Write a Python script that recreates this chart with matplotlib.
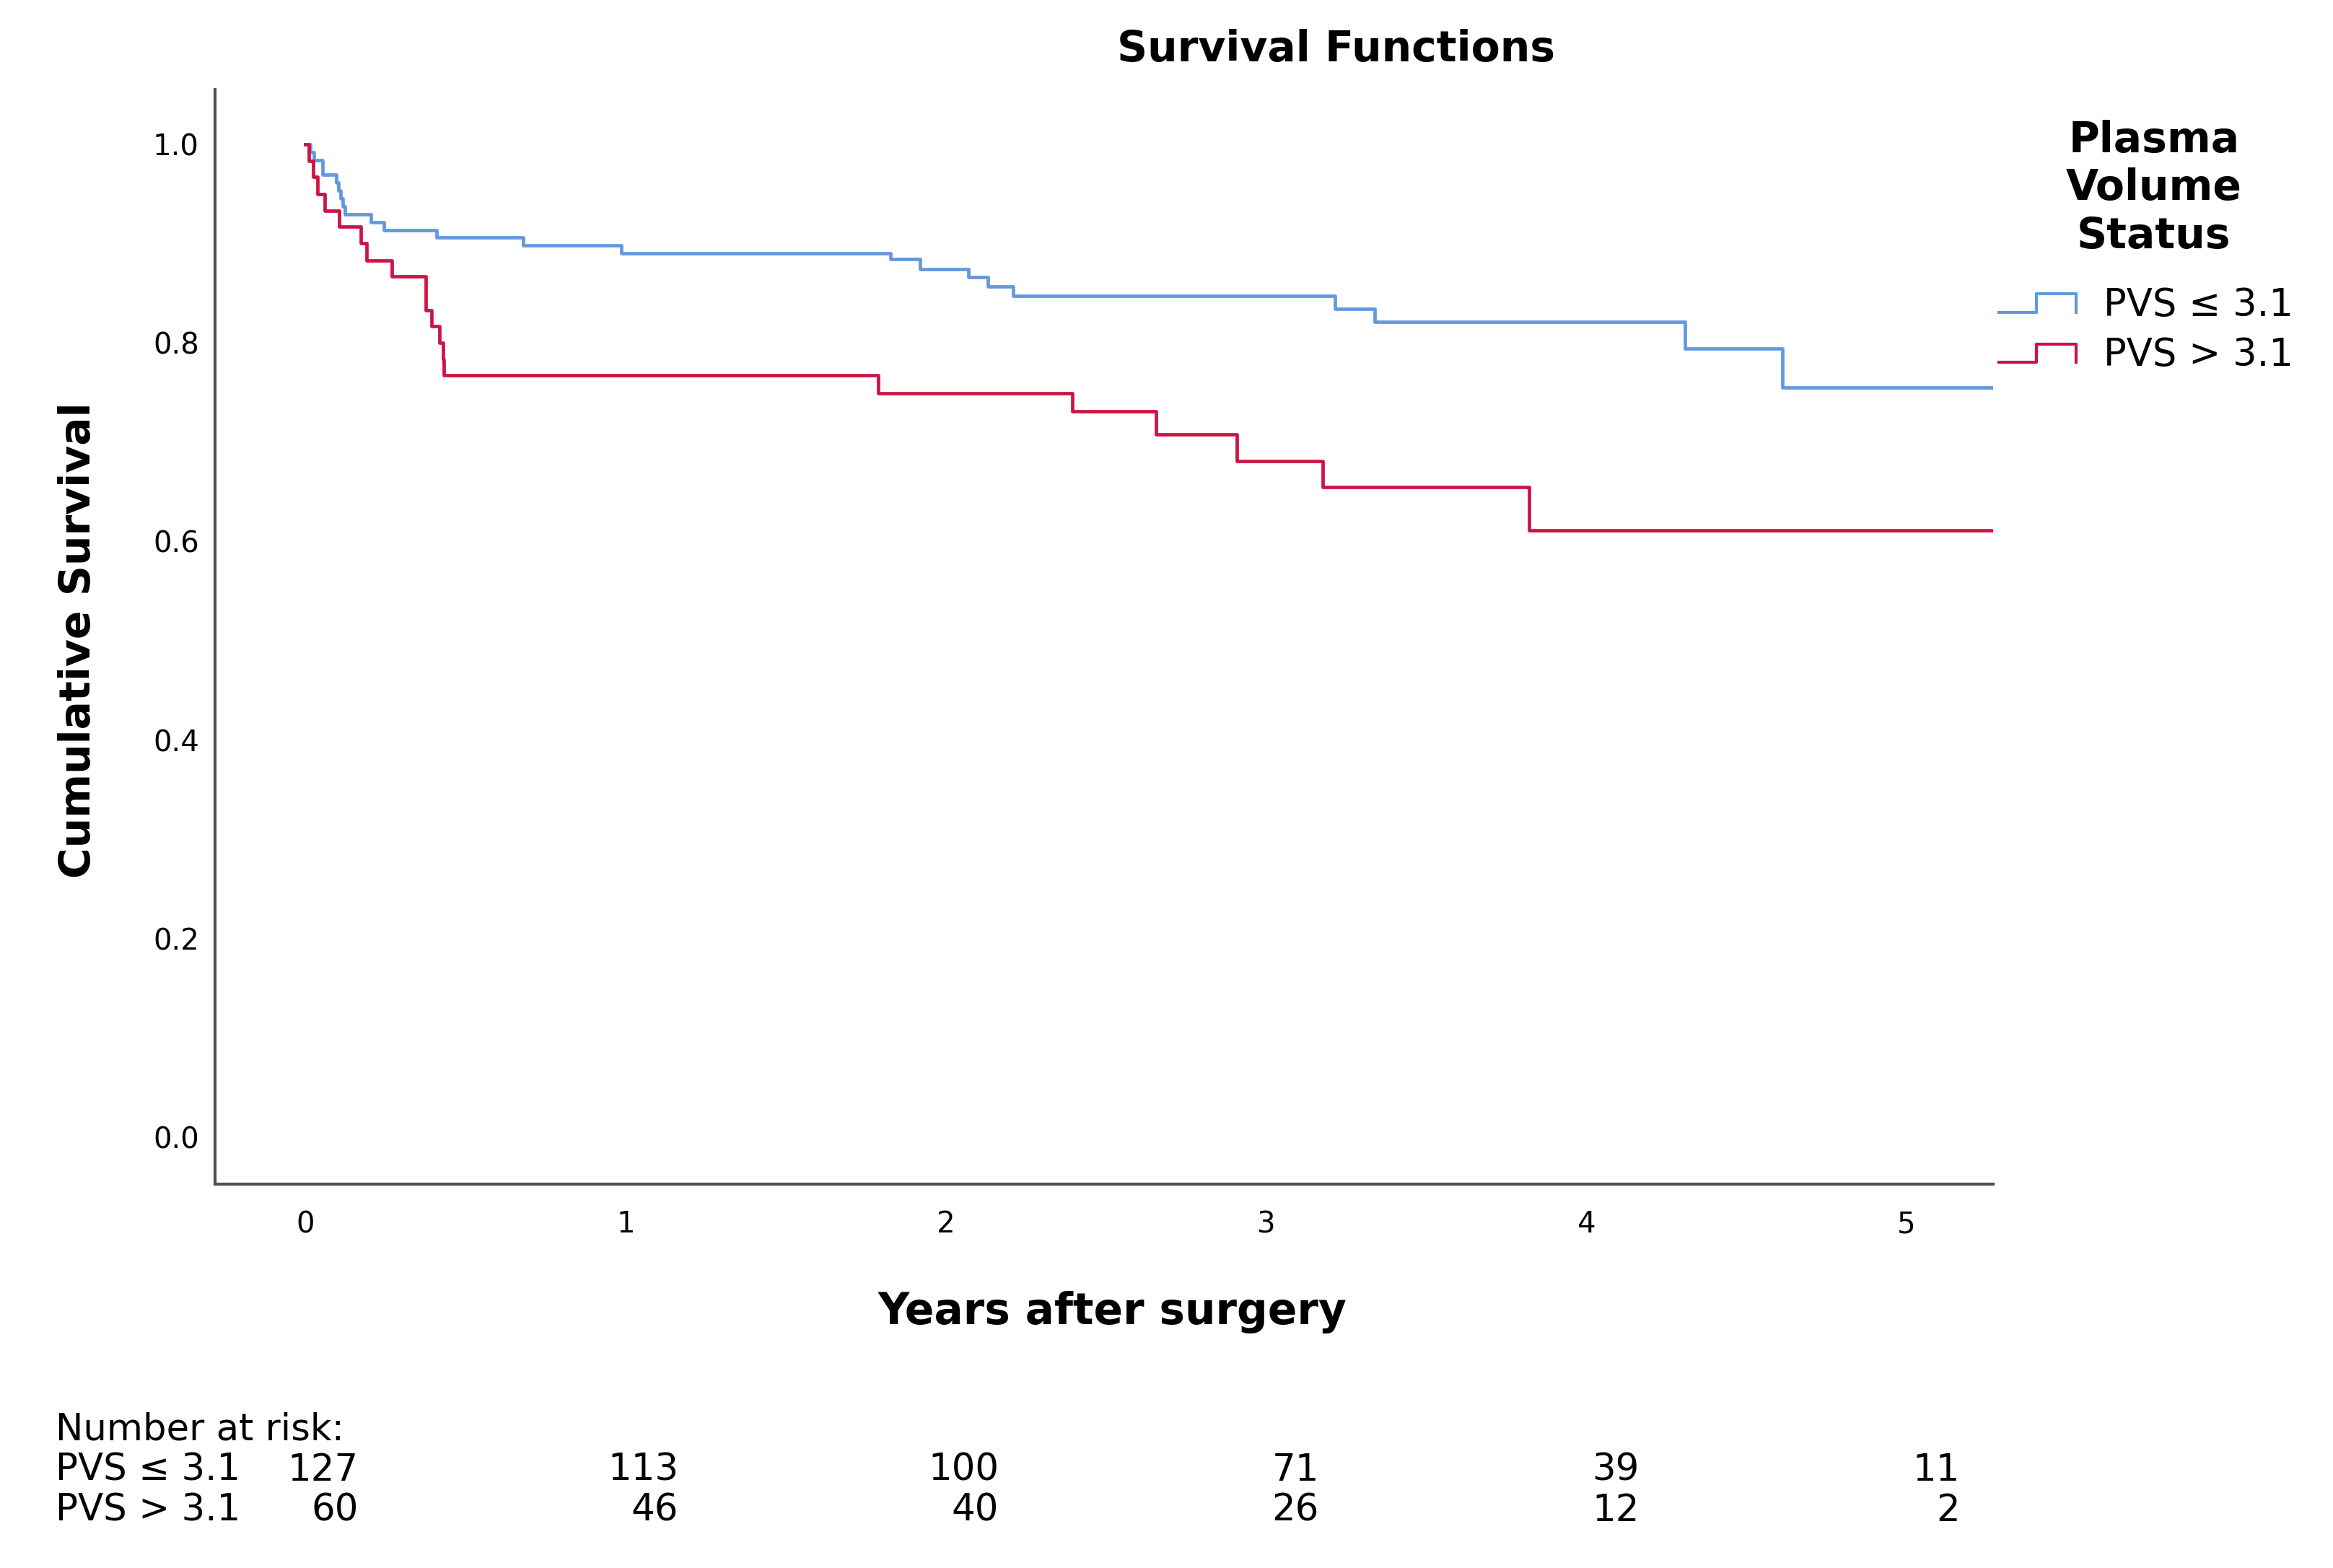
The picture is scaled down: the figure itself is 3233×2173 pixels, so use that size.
"""
Kaplan-Meier survival functions by plasma volume status, with number at risk
"""
import matplotlib
matplotlib.use('Agg')
import matplotlib.pyplot as plt
from matplotlib.lines import Line2D

# Step curves (time in years, cumulative survival)
low_times = [0.0, 0.015, 0.027, 0.053, 0.096, 0.104, 0.110, 0.117, 0.123,
             0.204, 0.245, 0.410, 0.681, 0.986, 1.826, 1.919, 2.070, 2.131,
             2.210, 3.214, 3.340, 4.308, 4.613]
low_surv = [1.0, 0.992, 0.984, 0.969, 0.961, 0.953, 0.945, 0.937, 0.929,
            0.921, 0.913, 0.906, 0.898, 0.890, 0.884, 0.874, 0.866, 0.857,
            0.847, 0.834, 0.821, 0.794, 0.755]

high_times = [0.0, 0.012, 0.024, 0.038, 0.061, 0.106, 0.174, 0.192, 0.271,
              0.377, 0.395, 0.418, 0.429, 0.433, 1.788, 2.394, 2.657, 2.909,
              3.177, 3.822]
high_surv = [1.0, 0.983, 0.967, 0.950, 0.933, 0.917, 0.900, 0.883, 0.867,
             0.833, 0.817, 0.800, 0.783, 0.767, 0.749, 0.731, 0.708, 0.681,
             0.655, 0.611]

follow_up_end = 5.27

group_labels = ['PVS \u2264 3.1', 'PVS > 3.1']
risk_years = [0, 1, 2, 3, 4, 5]
risk_low = [127, 113, 100, 71, 39, 11]
risk_high = [60, 46, 40, 26, 12, 2]

blue = '#6398de'
red = '#cc1444'

W, H = 3233, 2173
fig = plt.figure(figsize=(W / 200, H / 200), dpi=200)


def fx(px):
    return px / W


def fy(py):
    return 1 - py / H


ax = fig.add_axes([fx(298), fy(1641), fx(2762) - fx(298), fy(124) - fy(1641)])

ax.step(low_times + [follow_up_end], low_surv + [low_surv[-1]],
        where='post', color=blue, linewidth=1.7)
ax.step(high_times + [follow_up_end], high_surv + [high_surv[-1]],
        where='post', color=red, linewidth=1.7)

ax.set_xlim(-0.282, 5.27)
ax.set_ylim(-0.047, 1.055)
ax.set_xticks(risk_years)
ax.set_yticks([0.0, 0.2, 0.4, 0.6, 0.8, 1.0])
ax.set_yticklabels(['0.0', '0.2', '0.4', '0.6', '0.8', '1.0'])
ax.tick_params(axis='both', length=0, labelsize=14.5)
ax.tick_params(axis='x', pad=13)
ax.tick_params(axis='y', pad=8)
for side in ['top', 'right']:
    ax.spines[side].set_visible(False)
for side in ['left', 'bottom']:
    ax.spines[side].set_color('#505050')
    ax.spines[side].set_linewidth(1.5)

# Titles and axis labels
fig.text(fx(1851), fy(68), 'Survival Functions', ha='center', va='center',
         fontsize=21, fontweight='bold')
fig.text(fx(1542), fy(1819), 'Years after surgery', ha='center', va='center',
         fontsize=21.5, fontweight='bold')
fig.text(fx(108), fy(887), 'Cumulative Survival', ha='center', va='center',
         rotation=90, fontsize=21, fontweight='bold')

# Legend drawn by hand (SPSS style step handles)
fig.text(fx(2985), fy(261), 'Plasma\nVolume\nStatus', ha='center', va='center',
         fontsize=21, fontweight='bold', linespacing=1.22)
for label, color, low_y, top_y, text_y in [
        (group_labels[0], blue, 433, 407, 423),
        (group_labels[1], red, 502, 477, 492)]:
    xs = [fx(2770), fx(2822), fx(2822), fx(2877), fx(2877)]
    ys = [fy(low_y), fy(low_y), fy(top_y), fy(top_y), fy(low_y)]
    fig.add_artist(Line2D(xs, ys, color=color, linewidth=1.5,
                          transform=fig.transFigure))
    fig.text(fx(2915), fy(text_y), label, ha='left', va='center', fontsize=19)

# Number at risk table
fig.text(fx(77), fy(1982), 'Number at risk:', ha='left', va='center', fontsize=18.5)
for row_y, label, counts in [(2038, group_labels[0], risk_low),
                             (2094, group_labels[1], risk_high)]:
    fig.text(fx(77), fy(row_y), label, ha='left', va='center', fontsize=18.5)
    for yr, n in zip(risk_years, counts):
        x_disp = ax.transData.transform((yr + 0.165, 0))[0]
        x_fig = fig.transFigure.inverted().transform((x_disp, 0))[0]
        fig.text(x_fig, fy(row_y), str(n), ha='right', va='center', fontsize=18.5)

fig.savefig('out.png', dpi=200)
